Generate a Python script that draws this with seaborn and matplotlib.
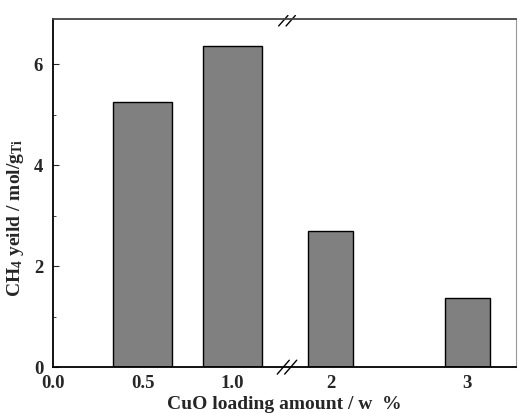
import numpy as np
import pandas as pd
import matplotlib
matplotlib.use('Agg')
import matplotlib.pyplot as plt
import seaborn as sns

# data
loading = [0.5, 1.0, 2.0, 3.0]
ch4_yield = [5.26, 6.37, 2.69, 1.38]
tick_pos = [0.0, 0.5, 1.0, 2.0, 3.0]
tick_lbl = ['0.0', '0.5', '1.0', '2', '3']

df = pd.DataFrame({'loading': loading, 'yield': ch4_yield})

sns.set_style('ticks')
plt.rcParams['font.family'] = ['Liberation Serif', 'DejaVu Serif']
plt.rcParams['font.weight'] = 'bold'
plt.rcParams['mathtext.fontset'] = 'custom'
plt.rcParams['mathtext.rm'] = 'Liberation Serif:bold'
plt.rcParams['mathtext.it'] = 'Liberation Serif:bold'
plt.rcParams['mathtext.bf'] = 'Liberation Serif:bold'

fig = plt.figure(figsize=(5.19, 4.13), dpi=100)
ax = fig.add_axes([0.102, 0.111, 0.893, 0.843])

sns.barplot(data=df, x='loading', y='yield', native_scale=True, width=0.66,
            color='#808080', saturation=1, edgecolor='black', linewidth=1.0, ax=ax)

# broken x axis: linear up to 1.3, gap to 1.68, compressed after
d_knots = [-10, 1.30, 1.68, 10]
u_knots = [-10, 1.30, 1.301, 1.301 + 0.761 * (10 - 1.68)]
fwd = lambda x: np.interp(x, d_knots, u_knots)
inv = lambda u: np.interp(u, u_knots, d_knots)
ax.set_xscale('function', functions=(fwd, inv))
ax.set_xlim(0, 3.36)
ax.set_ylim(0, 6.9)

ax.set_xticks(tick_pos)
ax.set_xticklabels(tick_lbl)
ax.tick_params(axis='x', length=0, pad=6, labelsize=13.5)
ax.set_yticks([0, 2, 4, 6])
ax.set_yticks([1, 3, 5], minor=True)
ax.tick_params(axis='y', which='both', direction='in', labelsize=13.5, right=False, pad=7)
ax.tick_params(axis='y', which='major', length=4)
ax.tick_params(axis='y', which='minor', length=2.5)

for s in ['left', 'bottom']:
    ax.spines[s].set_color('black')
    ax.spines[s].set_linewidth(1.3)
ax.spines['top'].set_color('#444444')
ax.spines['top'].set_linewidth(1.3)
ax.spines['right'].set_color('#999999')
ax.spines['right'].set_linewidth(0.8)

# break marks
bx = 0.505
for dx in (-0.008, 0.008):
    ax.plot([bx + dx - 0.013, bx + dx + 0.013], [-0.02, 0.02],
            transform=ax.transAxes, color='black', lw=1.0, clip_on=False)
    ax.plot([bx + dx - 0.010, bx + dx + 0.010], [0.98, 1.01],
            transform=ax.transAxes, color='black', lw=1.0, clip_on=False)

ax.set_xlabel('CuO loading amount / w  %', fontsize=14, fontweight='bold')
ax.xaxis.set_label_coords(0.5, -0.082)
ax.set_ylabel(r'CH$_4$ yeild / mol/g$_{\mathregular{Ti}}$', fontsize=14,
              fontweight='bold')
ax.yaxis.set_label_coords(-0.058, 0.43)

plt.savefig('out.png', dpi=100)
